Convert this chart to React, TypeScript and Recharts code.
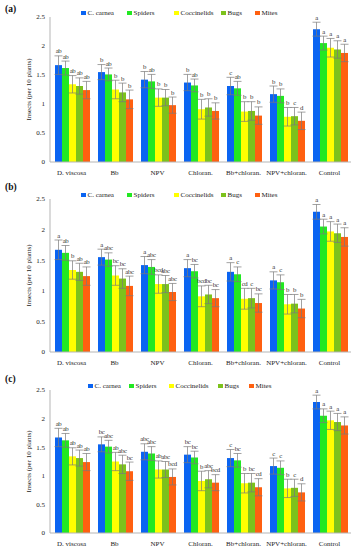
import React from 'react';
import { BarChart, Bar, XAxis, YAxis, ErrorBar, LabelList, Legend } from 'recharts';

const categories = ['D. viscosa', 'Bb', 'NPV', 'Chloran.', 'Bb+chloran.', 'NPV+chloran.', 'Control'];
const seriesNames = ['C. carnea', 'Spiders', 'Coccinelids', 'Bugs', 'Mites'];
const seriesColors = ['#0a64f2', '#22e822', '#ffff00', '#7cc21c', '#ff6010'];

const carnea = [1.67, 1.55, 1.42, 1.37, 1.31, 1.17, 2.29];
const spiders = [1.62, 1.51, 1.39, 1.32, 1.27, 1.14, 2.05];
const coccinelids = [1.34, 1.25, 1.11, 0.91, 0.87, 0.78, 1.97];
const bugs = [1.31, 1.2, 1.11, 0.94, 0.88, 0.79, 1.94];
const mites = [1.24, 1.08, 0.98, 0.88, 0.8, 0.71, 1.88];

const carneaErr = [0.16, 0.13, 0.14, 0.14, 0.15, 0.14, 0.12];
const spidersErr = [0.12, 0.11, 0.12, 0.11, 0.12, 0.12, 0.12];
const coccinelidsErr = [0.15, 0.16, 0.15, 0.17, 0.17, 0.16, 0.16];
const bugsErr = [0.14, 0.16, 0.14, 0.15, 0.16, 0.15, 0.15];
const mitesErr = [0.15, 0.16, 0.14, 0.14, 0.15, 0.15, 0.15];

const yTicks = [0, 0.5, 1, 1.5, 2, 2.5];

const lettersA = [
  ['ab', 'b', 'b', 'b', 'c', 'b', 'a'],
  ['ab', 'ab', 'ab', 'ab', 'ab', 'b', 'a'],
  ['ab', 'b', 'b', 'b', 'b', 'b', 'a'],
  ['ab', 'b', 'b', 'b', 'b', 'c', 'a'],
  ['ab', 'b', 'b', 'b', 'b', 'd', 'a'],
];
const lettersB = [
  ['a', 'a', 'a', 'a', 'a', 'a', 'a'],
  ['ab', 'abc', 'abc', 'bc', 'c', 'c', 'a'],
  ['b', 'bc', 'bcd', 'bcd', 'cd', 'b', 'a'],
  ['ab', 'bc', 'abc', 'bc', 'c', 'b', 'a'],
  ['ab', 'abc', 'abc', 'bc', 'bc', 'b', 'a'],
];
const lettersC = [
  ['ab', 'bc', 'abc', 'bc', 'c', 'c', 'a'],
  ['ab', 'abc', 'abc', 'bc', 'bc', 'c', 'a'],
  ['ab', 'ab', 'ab', 'b', 'b', 'b', 'a'],
  ['ab', 'abc', 'abc', 'abc', 'bc', 'c', 'a'],
  ['ab', 'bc', 'bcd', 'bcd', 'cd', 'd', 'a'],
];

const seriesValues = [carnea, spiders, coccinelids, bugs, mites];
const seriesErrors = [carneaErr, spidersErr, coccinelidsErr, bugsErr, mitesErr];

const FONT = '"Liberation Serif", "Times New Roman", serif';

type PanelCfg = {
  tag: string;
  letters: string[][];
  top: number;
  height: number;
  mt: number;
  mb: number;
  legendLeft: number;
  legendTop: number;
  legendWidths: number[];
  tagTop: number;
};

const panels: PanelCfg[] = [
  { tag: '(a)', letters: lettersA, top: 0, height: 182, mt: 17, mb: 6, legendLeft: 81, legendTop: 9, legendWidths: [46, 47, 47, 34, 40], tagTop: 4 },
  { tag: '(b)', letters: lettersB, top: 182, height: 186, mt: 17, mb: 2, legendLeft: 81, legendTop: 9, legendWidths: [46, 47, 47, 34, 40], tagTop: 0 },
  { tag: '(c)', letters: lettersC, top: 368, height: 182, mt: 22, mb: 3, legendLeft: 88, legendTop: 14, legendWidths: [41, 40, 49, 31, 40], tagTop: 6 },
];

const XH = 14;

function buildRows(letters: string[][]) {
  return categories.map((c, i) => {
    const row: any = { cat: c };
    seriesValues.forEach((vals, k) => {
      row[`s${k}`] = vals[i];
      row[`e${k}`] = seriesErrors[k][i];
      row[`l${k}`] = letters[k][i];
    });
    return row;
  });
}

const makeLetter = (k: number) => (props: any) => {
  const vb = props.viewBox || {};
  const x = props.x ?? vb.x;
  const y = props.y ?? vb.y;
  const width = props.width ?? vb.width;
  const height = props.height ?? vb.height;
  const index = props.index;
  if (x == null || y == null || index == null) return null;
  const val = seriesValues[k][index];
  const err = seriesErrors[k][index];
  const h = Math.abs(height);
  const top = Math.min(y, y + height);
  const errPx = val > 0 ? (err / val) * h : 0;
  return (
    <text
      x={x + width / 2}
      y={top - errPx - 2.5}
      textAnchor="middle"
      fontSize={6.8}
      letterSpacing={-0.35}
      fontFamily={FONT}
      fill="#333"
    >
      {props.value}
    </text>
  );
};

const makeLegend = (widths: number[]) => () => (
  <div style={{ display: 'flex', alignItems: 'center', fontFamily: FONT, fontSize: 7, lineHeight: '8px', color: '#222', whiteSpace: 'nowrap' }}>
    {seriesNames.map((n, i) => (
      <div key={n} style={{ width: widths[i], display: 'flex', alignItems: 'center' }}>
        <span style={{ width: 4.5, height: 4.5, background: seriesColors[i], marginRight: 2, display: 'inline-block' }} />
        {n}
      </div>
    ))}
  </div>
);

function Panel({ cfg }: { cfg: PanelCfg }) {
  const rows = buildRows(cfg.letters);
  const plotBottom = cfg.height - cfg.mb - XH;
  const cy = (cfg.mt + plotBottom) / 2;
  return (
    <div style={{ position: 'absolute', left: 0, top: cfg.top, width: 355, height: cfg.height }}>
      <BarChart
        width={355}
        height={cfg.height}
        data={rows}
        margin={{ top: cfg.mt, right: 4, bottom: cfg.mb, left: 0 }}
        barCategoryGap={5}
        barGap={0}
      >
        <XAxis
          dataKey="cat"
          interval={0}
          height={XH}
          tickLine={false}
          tickSize={0}
          tickMargin={8}
          axisLine={{ stroke: '#b5b5b5' }}
          tick={{ fontSize: 7, fill: '#222', fontFamily: FONT }}
        />
        <YAxis
          width={50}
          domain={[0, 2.5]}
          ticks={yTicks}
          tickLine={false}
          tickSize={0}
          tickMargin={5}
          axisLine={{ stroke: '#b5b5b5' }}
          tick={{ fontSize: 7, fill: '#222', fontFamily: FONT }}
          label={{
            content: () => (
              <text
                x={29}
                y={cy}
                transform={`rotate(-90 29 ${cy})`}
                textAnchor="middle"
                dominantBaseline="central"
                fontSize={7}
                fontFamily={FONT}
                fill="#222"
              >
                Insects (per 10 plants)
              </text>
            ),
          }}
        />
        <Legend
          verticalAlign="middle"
          align="center"
          layout="horizontal"
          wrapperStyle={{ top: cfg.legendTop, left: cfg.legendLeft, width: 'auto', height: 'auto' }}
          content={makeLegend(cfg.legendWidths)}
        />
        {seriesNames.map((n, k) => (
          <Bar key={n} dataKey={`s${k}`} name={n} fill={seriesColors[k]} isAnimationActive={false}>
            <ErrorBar dataKey={`e${k}`} width={4} strokeWidth={0.7} stroke="#7a7a7a" direction="y" />
            <LabelList dataKey={`l${k}`} content={makeLetter(k)} />
          </Bar>
        ))}
      </BarChart>
      <span
        style={{
          position: 'absolute',
          left: 5,
          top: cfg.tagTop,
          fontFamily: FONT,
          fontWeight: 'bold',
          fontSize: 9.5,
          color: '#111',
        }}
      >
        {cfg.tag}
      </span>
    </div>
  );
}

export default function App() {
  return (
    <div style={{ position: 'absolute', left: 0, top: 0, width: 355, height: 550, background: '#fff' }}>
      {panels.map((p) => (
        <Panel key={p.tag} cfg={p} />
      ))}
    </div>
  );
}
